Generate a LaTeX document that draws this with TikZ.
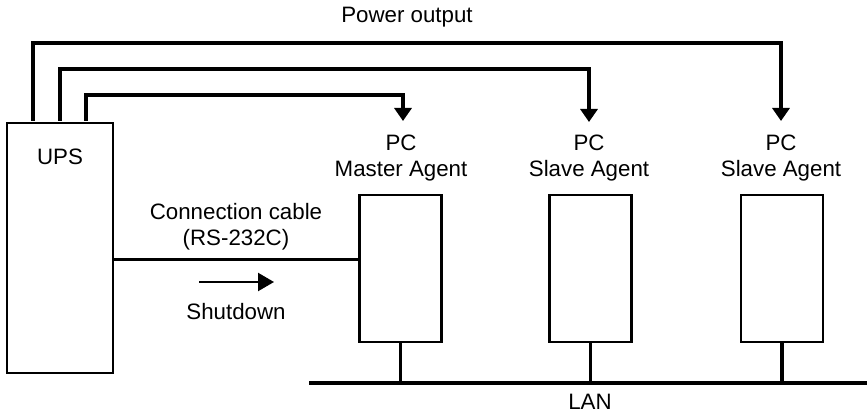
\documentclass[tikz,border=0pt]{standalone}
\usepackage{fontspec}
\setmainfont{Liberation Sans}
\usetikzlibrary{arrows.meta}
\begin{document}
\begin{tikzpicture}[x=1pt,y=-1pt,
  lbl/.style={font=\fontsize{22.3}{26}\selectfont, align=center, inner sep=0pt},
  boxn/.style={draw, line width=2.5pt, minimum width=#1, inner sep=0pt},
  power/.style={line width=4.6pt, -{Triangle[width=17pt,length=13pt]}},
  drop/.style={line width=3.8pt},
  cable/.style={line width=3pt}]
\useasboundingbox (0,0) rectangle (867,414);
% UPS
\node[boxn=106pt, minimum height=250pt] (ups) at (60,248) {};
\node[lbl] (upsl) at (60,157) {UPS};
% PCs
\node[boxn=82pt, minimum height=147pt] (pc1) at (400.5,268.5) {};
\node[boxn=82pt, minimum height=147pt] (pc2) at (590.5,268.5) {};
\node[boxn=82pt, minimum height=147pt] (pc3) at (782,268.5) {};
\node[lbl] (l1) at (401,158) {PC\\Master Agent};
\node[lbl] (l2) at (589,158) {PC\\Slave Agent};
\node[lbl] (l3) at (781,158) {PC\\Slave Agent};
% power
\node[lbl] (pout) at (407,17) {Power output};
\coordinate (u1) at (33,121);
\coordinate (u2) at (60,121);
\coordinate (u3) at (86,121);
\coordinate (t1) at (403,121);
\coordinate (t2) at (589,122);
\coordinate (t3) at (781,121);
\draw[power] (u1) |- (t3 |- 0,43) -- (t3);
\draw[power] (u2) |- (t2 |- 0,69) -- (t2);
\draw[power] (u3) |- (t1 |- 0,95) -- (t1);
% cable
\draw[cable] (ups.east |- 0,259) -- (pc1.west |- 0,259);
\node[lbl] (cab) at (236,227) {Connection cable\\(RS-232C)};
\coordinate (s0) at (199,282);
\coordinate (s1) at (274,282);
\draw[line width=2.2pt, -{Triangle[width=18pt,length=16pt]}] (s0) -- (s1);
\node[lbl] (sd) at (236,312) {Shutdown};
% LAN
\coordinate (lanA) at (309,383);
\coordinate (lanB) at (867,383);
\draw[drop] (lanA) -- (lanB);
\draw[drop] (pc1.south) -- (pc1.south |- lanA);
\draw[drop] (pc2.south) -- (pc2.south |- lanA);
\draw[drop] (pc3.south) -- (pc3.south |- lanA);
\node[lbl] (lan) at (590,402) {LAN};
\end{tikzpicture}
\end{document}
